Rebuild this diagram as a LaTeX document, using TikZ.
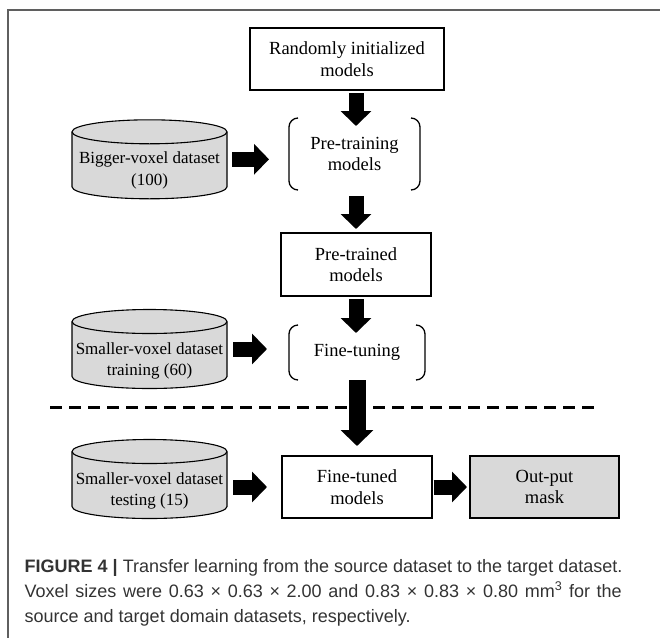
\documentclass[tikz,border=0pt]{standalone}
\usepackage[usenames,dvipsnames]{xcolor}
\usepackage{fontspec}
\setmainfont{Liberation Serif}
\newfontfamily\capfont{Liberation Sans}
\usetikzlibrary{positioning,arrows.meta}
\definecolor{boxgray}{RGB}{217,217,217}
\definecolor{framegray}{RGB}{95,95,95}

\begin{document}
\begin{tikzpicture}[x = 1pt, y = 1pt]
     \tikzset{BoxStyle/.style     = {draw,
                                     line width     = 1.8pt,
                                     inner sep      = 0pt,
                                     outer sep      = 0pt,
                                     minimum width  = 150pt,
                                     minimum height = 62pt,
                                     align          = center,
                                     font = \fontsize{18.5}{21.5}\selectfont},
              StepStyle/.style    = {inner sep      = 0pt,
                                     outer sep      = 0pt,
                                     align          = center,
                                     font = \fontsize{18.5}{21.5}\selectfont},
              DataStyle/.style    = {inner sep      = 0pt,
                                     outer sep      = 0pt,
                                     minimum width  = 155pt,
                                     minimum height = 79pt},
              DataText/.style     = {align          = center,
                                     inner sep      = 0pt,
                                     font = \fontsize{17}{21.5}\selectfont},
              DataLine/.style     = {line width = 1.1pt},
              BlockArrow/.style   = {line width = 15pt,
                                     -{Triangle[length=15pt, width=30pt]}},
              BigArrow/.style     = {line width = 17pt,
                                     -{Triangle[length=16pt, width=32pt]}},
              BracketStyle/.style = {line width = 1.3pt,
                                     rounded corners = 9pt},
              CaptionStyle/.style = {inner sep = 0pt,
                                     anchor    = base west,
                                     text      = black!80,
                                     font = \capfont\fontsize{18}{25}\selectfont}}
     \useasboundingbox (0,0) rectangle (660,-637);
     \draw[framegray, line width = 2pt] (7.5,-650) -- (7.5,-9.5) -- (670,-9.5);
     % main column
     \node[BoxStyle, minimum width = 194pt] (rand) at (347,-59)
          {Randomly initialized\\models};
     \node[StepStyle, minimum width = 131pt, minimum height = 72pt,
           below = 28pt of rand, xshift = 7.5pt] (pretrain) {Pre-training\\models};
     \node[BoxStyle, minimum height = 63pt,
           below = 43pt of pretrain, xshift = 1.5pt] (pretrained) {Pre-trained\\models};
     \node[StepStyle, minimum width = 136pt, minimum height = 55pt,
           below = 29pt of pretrained, xshift = 1pt] (finetune) {Fine-tuning};
     \node[BoxStyle, below = 76pt of finetune] (finetuned) {Fine-tuned\\models};
     \node[BoxStyle, fill = boxgray, line width = 1.4pt, minimum width = 149pt,
           right = 38pt of finetuned] (mask) {Out-put\\mask};
     % datasets
     \node[DataStyle, left = 62pt of pretrain, yshift = -5.3pt] (bigdb) {};
     \node[DataStyle, left = 62pt of finetune, yshift = 3.5pt] (traindb) {};
     \node[DataStyle, left = 55pt of finetuned, yshift = 8pt] (testdb) {};
     \foreach \n in {bigdb, traindb, testdb}{
        \draw[DataLine, fill = boxgray] ([yshift=-12pt]\n.north west)
             -- ([yshift=12pt]\n.south west)
             arc[start angle=180, end angle=360, x radius=77.5pt, y radius=12pt]
             -- ([yshift=-12pt]\n.north east)
             arc[start angle=0, end angle=180, x radius=77.5pt, y radius=12pt] -- cycle;
        \draw[DataLine] ([yshift=-12pt]\n.north west)
             arc[start angle=180, end angle=360, x radius=77.5pt, y radius=12pt];
     }
     \node[DataText] (bigtxt) at ([yshift=-11pt]bigdb.center)
          {Bigger-voxel dataset\\(100)};
     \node[DataText] (traintxt) at ([yshift=-12pt]traindb.center)
          {Smaller-voxel dataset\\training (60)};
     \node[DataText] (testtxt) at ([yshift=-12pt]testdb.center)
          {Smaller-voxel dataset\\testing (15)};
     % brackets round the steps
     \foreach \n in {pretrain, finetune}{
        \draw[BracketStyle] ([xshift=9pt]\n.north west) -- (\n.north west)
                            -- (\n.south west) -- ([xshift=9pt]\n.south west);
        \draw[BracketStyle] ([xshift=-9pt]\n.north east) -- (\n.north east)
                            -- (\n.south east) -- ([xshift=-9pt]\n.south east);
     }
     % split between training and testing
     \coordinate (sepL) at (50,-407);
     \coordinate (sepR) at (596,-407);
     \draw[line width = 3pt, dash pattern = on 12pt off 7pt] (sepL) -- (sepR);
     % arrows
     \draw[BlockArrow, shorten <= 3pt, shorten >= -8pt]
          (rand.south -| pretrained.north) -- (pretrain.north -| pretrained.north);
     \draw[BlockArrow, shorten <= 6pt, shorten >= 4pt]
          (pretrain.south -| pretrained.north) -- (pretrained.north);
     \draw[BlockArrow, shorten <= 3pt, shorten >= -8pt]
          (pretrained.south) -- (pretrained.south |- finetune.north);
     \draw[BigArrow, shorten >= 10pt] (finetune.south) -- (finetuned.north);
     \draw[BlockArrow, shorten <= 5pt, shorten >= 20pt]
          (bigdb.east) -- (bigdb.east -| pretrain.west);
     \draw[BlockArrow, shorten <= 6pt, shorten >= 22pt]
          (traindb.east) -- (traindb.east -| finetune.west);
     \draw[BlockArrow, shorten <= 6pt, shorten >= 15pt]
          (testdb.east |- finetuned.west) -- (finetuned.west);
     \draw[BlockArrow, shorten <= 1.5pt, shorten >= 3pt] (finetuned.east) -- (mask.west);
     % caption
     \node[CaptionStyle] (cap1) at (24.5,-572)
          {\textbf{FIGURE 4 |} Transfer learning from the source dataset to the target dataset.};
     \node[CaptionStyle] (cap2) at (24.5,-597)
          {\spaceskip=6.7pt Voxel sizes were 0.63 × 0.63 × 2.00 and 0.83 × 0.83 × 0.80 mm\textsuperscript{3} for the};
     \node[CaptionStyle] (cap3) at (24.5,-622)
          {source and target domain datasets, respectively.};
\end{tikzpicture}
\end{document}
